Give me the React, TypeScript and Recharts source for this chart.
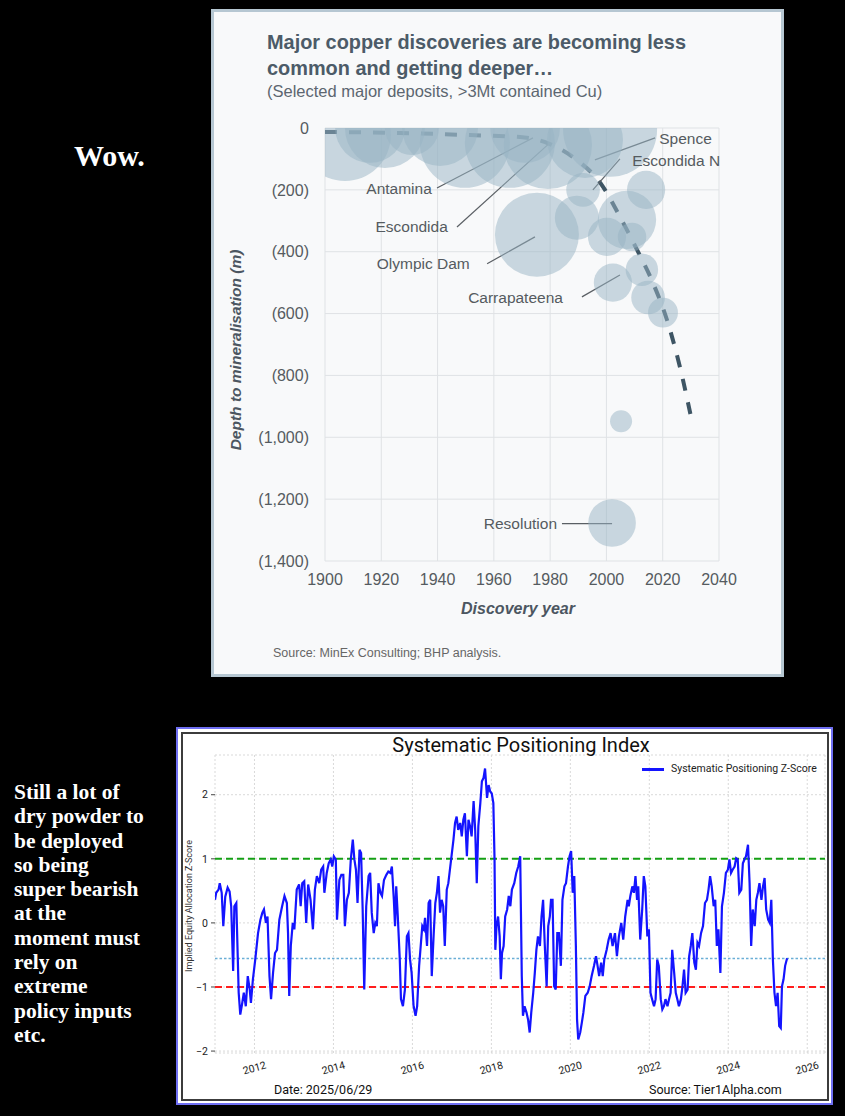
import React from "react";
import {
  ComposedChart, LineChart, Line, Scatter, XAxis, YAxis, ZAxis,
  CartesianGrid, ReferenceLine, ReferenceDot,
} from "recharts";

// ─────────────────────────────────────────────────────────────────────────────
// Data — copper discoveries (depth in metres, contained Cu in Mt)
// ─────────────────────────────────────────────────────────────────────────────

const DEPOSIT_YEAR  = [1907.1, 1916.0, 1921.3, 1930.9, 1940.9, 1949.7, 1965.7, 1971.1, 1979.2, 1992.4, 2001.3,
                       1991.7, 1989.5, 1975.3, 2007.3, 2000.2, 2009.1, 2014.1, 2002.3, 2012.6, 2014.8, 2020.1, 2005.2, 2002.0];
const DEPOSIT_DEPTH = [23, 0, 0, 0, 0, 48, 48, 0, 55, 39, 6,
                       200, 290, 345, 297, 352, 352, 200, 500, 458, 548, 597, 948, 1277];
const DEPOSIT_CU    = [104, 60, 79, 36, 71, 100, 100, 60, 96, 71, 109,
                       14, 24, 87, 42, 18, 10, 18, 18, 13, 14, 11, 6, 28];

const TREND_YEAR  = [1900, 1926.6, 1951.5, 1969.3, 1979.9, 1988.1, 1998.8, 2004.8, 2010.9, 2016.5, 2021.5, 2026.1, 2030.4];
const TREND_DEPTH = [13, 16, 23, 29, 52, 94, 190, 287, 394, 500, 620, 772, 949];

const YEAR_TICKS  = [1900, 1920, 1940, 1960, 1980, 2000, 2020, 2040];
const DEPTH_TICKS = [0, -200, -400, -600, -800, -1000, -1200, -1400];

// label anchor + leader line, in data units (year, depth)
const ANNOTATIONS = [
  { name: "Antamina",     side: "left",  at: [1939.4, 194],  from: [1939.8, 194],  to: [1973.9, 32] },
  { name: "Escondida",    side: "left",  at: [1945.1, 320],  from: [1946.9, 320],  to: [1979.9, 48] },
  { name: "Olympic Dam",  side: "left",  at: [1952.9, 439],  from: [1957.6, 439],  to: [1974.6, 352] },
  { name: "Carrapateena", side: "left",  at: [1986.0, 549],  from: [1991.3, 546],  to: [2004.8, 475] },
  { name: "Spence",       side: "right", at: [2017.3, 35],   from: [2017.3, 32],   to: [1995.9, 103] },
  { name: "Escondida N",  side: "right", at: [2007.7, 106],  from: [2004.8, 100],  to: [1995.2, 200] },
  { name: "Resolution",   side: "left",  at: [1983.9, 1279], from: [1984.2, 1279], to: [2002.0, 1279] },
];

// ─────────────────────────────────────────────────────────────────────────────
// Data — Systematic Positioning Z-Score (decimal year, z)
// ─────────────────────────────────────────────────────────────────────────────

const SPI: [number, number][] = [
  [2011.00,0.36],[2011.03,0.47],[2011.09,0.52],[2011.12,0.62],[2011.17,0.47],[2011.21,-0.05],[2011.26,0.41],[2011.32,0.55],
  [2011.37,0.49],[2011.41,0.26],[2011.46,-0.75],[2011.49,0.26],[2011.54,0.31],[2011.60,-1.09],[2011.64,-1.43],[2011.69,-1.25],
  [2011.73,-1.09],[2011.78,-1.30],[2011.83,-0.83],[2011.88,-1.04],[2011.91,-1.25],[2011.96,-0.88],
  [2012.02,-0.57],[2012.09,-0.16],[2012.15,0.05],[2012.20,0.16],[2012.24,0.21],[2012.29,0],[2012.33,0.10],[2012.38,-0.83],
  [2012.42,-1.19],[2012.47,-0.78],[2012.52,-0.47],[2012.57,-0.42],[2012.63,0.05],[2012.70,0.26],[2012.76,0.42],[2012.82,0.31],
  [2012.85,-0.16],[2012.88,-1.14],[2012.92,-0.36],[2012.97,0],
  [2013.01,-0.10],[2013.07,0.52],[2013.13,0.60],[2013.17,0.26],[2013.21,0.62],[2013.26,0.65],[2013.31,0],[2013.36,0.60],
  [2013.42,0.36],[2013.48,-0.10],[2013.53,0.52],[2013.58,0.73],[2013.64,0.62],[2013.69,0.83],[2013.74,0.88],[2013.77,0.47],
  [2013.83,0.78],[2013.88,0.93],[2013.93,0.99],[2013.97,0.88],
  [2014.01,1.04],[2014.06,0.99],[2014.09,0.05],[2014.15,0.67],[2014.20,0.75],[2014.25,0.75],[2014.29,-0.05],[2014.34,0.36],
  [2014.39,0.47],[2014.44,0.99],[2014.49,1.30],[2014.53,0.99],[2014.57,0.83],[2014.61,0.31],[2014.66,1.14],[2014.70,1.09],
  [2014.74,0.21],[2014.78,-1.04],[2014.83,0.26],[2014.89,0.73],[2014.93,0.78],[2014.97,0.16],
  [2015.02,-0.16],[2015.06,0],[2015.10,-0.05],[2015.14,0.62],[2015.19,0.47],[2015.23,0.42],[2015.28,0.67],[2015.34,0.75],
  [2015.39,0.80],[2015.44,0.78],[2015.48,0.88],[2015.53,0.36],[2015.56,-0.05],[2015.59,0.57],[2015.63,0.10],[2015.68,-0.57],
  [2015.71,-1.19],[2015.76,-1.30],[2015.81,-1.04],[2015.86,-0.21],[2015.90,-0.16],[2015.94,-0.57],[2015.98,-0.78],
  [2016.03,-1.30],[2016.08,-1.45],[2016.12,-1.30],[2016.17,-0.67],[2016.21,-0.36],[2016.25,-0.05],[2016.29,-0.10],[2016.32,0.08],
  [2016.37,-0.36],[2016.41,0.31],[2016.45,0.36],[2016.49,-0.83],[2016.54,-0.16],[2016.58,0.31],[2016.62,0.47],[2016.66,0.73],
  [2016.70,0.16],[2016.74,0.36],[2016.78,0.26],[2016.82,-0.36],[2016.87,0.52],[2016.91,0.62],[2016.95,0.83],[2016.99,1.04],
  [2017.04,1.30],[2017.08,1.56],[2017.12,1.66],[2017.16,1.45],[2017.21,1.56],[2017.25,1.35],[2017.29,1.61],[2017.33,1.71],
  [2017.38,1.04],[2017.42,1.61],[2017.46,1.51],[2017.50,1.35],[2017.55,1.90],[2017.59,1.45],[2017.63,0.62],[2017.67,1.51],
  [2017.72,1.87],[2017.76,2.21],[2017.80,2.26],[2017.84,2.41],[2017.89,1.95],[2017.93,2.15],[2017.97,2.05],
  [2018.01,2.02],[2018.05,1.87],[2018.08,0.99],[2018.10,-0.42],[2018.13,-0.05],[2018.17,0.10],[2018.21,-0.21],[2018.24,-0.88],
  [2018.27,-0.47],[2018.31,-0.36],[2018.35,0.10],[2018.40,0.21],[2018.44,0.42],[2018.48,0.26],[2018.52,0.52],[2018.58,0.62],
  [2018.63,0.78],[2018.68,0.88],[2018.73,1.04],[2018.77,-0.83],[2018.80,-1.45],[2018.84,-1.30],[2018.89,-1.40],[2018.93,-1.51],
  [2018.97,-1.71],
  [2019.01,-1.40],[2019.06,-1.09],[2019.10,-0.78],[2019.14,-0.42],[2019.18,-0.21],[2019.23,-0.36],[2019.27,0.10],[2019.31,0.36],
  [2019.35,-0.31],[2019.40,-0.99],[2019.44,-0.05],[2019.48,0.10],[2019.51,0.36],[2019.55,0.36],[2019.59,-0.99],[2019.63,-1.04],
  [2019.67,-0.16],[2019.71,-0.16],[2019.76,-0.67],[2019.80,0.36],[2019.85,0.57],[2019.89,0.62],[2019.94,0.88],[2019.98,1.04],
  [2020.02,1.12],[2020.06,0.47],[2020.10,0.73],[2020.14,-0.36],[2020.17,-1.51],[2020.20,-1.82],[2020.25,-1.71],[2020.29,-1.56],
  [2020.33,-1.40],[2020.38,-1.14],[2020.44,-1.09],[2020.49,-0.99],[2020.54,-0.83],[2020.60,-0.67],[2020.65,-0.52],[2020.69,-0.67],
  [2020.73,-0.83],[2020.78,-0.62],[2020.82,-0.83],[2020.86,-0.57],[2020.92,-0.42],[2020.97,-0.26],
  [2021.02,-0.16],[2021.07,-0.36],[2021.13,-0.16],[2021.18,-0.52],[2021.23,-0.21],[2021.29,0],[2021.34,-0.26],[2021.39,0.10],
  [2021.45,0.36],[2021.48,0.26],[2021.52,0.42],[2021.57,0.57],[2021.61,0.47],[2021.65,0.73],[2021.69,0.36],[2021.72,0.57],
  [2021.77,-0.26],[2021.82,0.21],[2021.86,0.73],[2021.90,0.57],[2021.95,-0.21],[2021.99,-0.10],
  [2022.03,-1.09],[2022.07,-1.19],[2022.12,-1.30],[2022.16,-1.19],[2022.20,-0.57],[2022.24,-0.67],[2022.29,-1.19],[2022.33,-1.35],
  [2022.37,-1.30],[2022.41,-1.19],[2022.46,-1.30],[2022.50,-1.19],[2022.54,-1.09],[2022.58,-0.42],[2022.63,-0.78],[2022.67,-1.09],
  [2022.71,-1.19],[2022.75,-1.30],[2022.80,-1.19],[2022.84,-0.99],[2022.88,-0.73],[2022.92,-1.09],[2022.97,-1.04],
  [2023.01,-0.52],[2023.05,-0.36],[2023.09,-0.16],[2023.14,-0.62],[2023.18,-0.73],[2023.22,-0.31],[2023.26,-0.36],[2023.31,-0.16],
  [2023.36,-0.05],[2023.41,0.31],[2023.46,0.36],[2023.50,0.52],[2023.54,0.73],[2023.58,0.57],[2023.63,0.26],[2023.67,0.36],
  [2023.71,-0.36],[2023.75,-0.10],[2023.80,-0.78],[2023.84,0.26],[2023.89,0.47],[2023.94,0.78],[2023.99,0.83],
  [2024.03,0.99],[2024.07,0.78],[2024.11,0.83],[2024.16,0.88],[2024.20,1.01],[2024.24,0.99],[2024.28,0.47],[2024.33,0.52],
  [2024.37,0.93],[2024.41,0.99],[2024.45,1.04],[2024.50,1.22],[2024.54,0.62],[2024.58,-0.36],[2024.62,0.21],[2024.67,-0.05],
  [2024.71,0.36],[2024.75,0.47],[2024.79,0.62],[2024.84,0.36],[2024.88,0.57],[2024.92,0.70],[2024.96,0.21],
  [2025.01,0.05],[2025.05,0],[2025.09,0.36],[2025.13,-0.57],[2025.17,-1.09],[2025.21,-1.30],[2025.25,-1.09],[2025.29,-1.61],
  [2025.33,-1.64],[2025.36,-0.99],[2025.40,-0.88],[2025.44,-0.67],[2025.49,-0.55],
];

const SPI_X_TICKS  = [2012, 2014, 2016, 2018, 2020, 2022, 2024, 2026];
const SPI_Y_TICKS  = [-2, -1, 0, 1, 2];
const SPI_UPPER    = 1;
const SPI_LOWER    = -1;
const SPI_CURRENT  = -0.555;

const NOTE_LINES = [
  "Still a lot of", "dry powder to", "be deployed", "so being", "super bearish", "at the",
  "moment must", "rely on", "extreme", "policy inputs", "etc.",
];

// ─────────────────────────────────────────────────────────────────────────────
// Helpers
// ─────────────────────────────────────────────────────────────────────────────

const SANS  = "'Liberation Sans', Arial, sans-serif";
const ROBO  = "Roboto, 'DejaVu Sans', sans-serif";
const SERIF = "'Liberation Serif', 'DejaVu Serif', serif";

const deposits = DEPOSIT_YEAR.map((year, i) => ({ year, d: -DEPOSIT_DEPTH[i], cu: DEPOSIT_CU[i] }));
const trend    = TREND_YEAR.map((year, i) => ({ year, d: -TREND_DEPTH[i] }));
const spiData  = SPI.map(([t, v]) => ({ t, v }));

function fmtDepth(v: number): string {
  if (v === 0) return "0";
  return `(${Math.abs(v).toLocaleString("en-US")})`;
}

function fmtZ(v: number): string {
  return v < 0 ? `\u2212${Math.abs(v)}` : `${v}`;
}

const Bubble = (p: any) => (
  <circle cx={p.cx} cy={p.cy} r={p.width / 2} fill="#98b3c3" fillOpacity={0.5} />
);

const RotTick = ({ x, y, payload }: any) => (
  <text
    transform={`translate(${x},${y + 7}) rotate(-15)`}
    textAnchor="middle" dominantBaseline="central"
    fontSize={10.5} fill="#222" fontFamily={ROBO}
  >
    {payload.value}
  </text>
);

const abs = (o: React.CSSProperties): React.CSSProperties => ({ position: "absolute", ...o });

// ─────────────────────────────────────────────────────────────────────────────
// Copper chart
// ─────────────────────────────────────────────────────────────────────────────

function CopperChart() {
  return (
    <ComposedChart width={519} height={481} margin={{ top: 18, right: 20, bottom: 0, left: 0 }}>
      <CartesianGrid stroke="#dfe2e5" strokeWidth={1} />
      <XAxis
        dataKey="year" type="number" domain={[1900, 2040]} ticks={YEAR_TICKS}
        allowDataOverflow axisLine={false} tickLine={false} tickSize={8} tickMargin={5} height={30}
        tick={{ fill: "#555b60", fontSize: 16, fontFamily: SANS }}
      />
      <YAxis
        dataKey="d" type="number" domain={[-1400, 0]} ticks={DEPTH_TICKS}
        allowDataOverflow axisLine={false} tickLine={false} tickSize={8} tickMargin={8} width={105}
        tickFormatter={fmtDepth}
        tick={{ fill: "#555b60", fontSize: 16, fontFamily: SANS }}
      />
      <ZAxis dataKey="cu" type="number" domain={[0, 150]} range={[0, 9543]} />

      <Scatter data={deposits} dataKey="d" shape={Bubble} isAnimationActive={false} />

      <Line
        data={trend} dataKey="d" type="monotone"
        stroke="#3e5564" strokeWidth={4} strokeDasharray="12 12"
        dot={false} activeDot={false} isAnimationActive={false}
      />

      {ANNOTATIONS.map((a) => (
        <ReferenceLine
          key={`l-${a.name}`}
          segment={[{ x: a.from[0], y: -a.from[1] }, { x: a.to[0], y: -a.to[1] }]}
          stroke="#5a5f64" strokeWidth={1.2} ifOverflow="visible"
        />
      ))}
      {ANNOTATIONS.map((a) => (
        <ReferenceDot
          key={`d-${a.name}`}
          x={a.at[0]} y={-a.at[1]} r={0.1} fill="none" stroke="none"
          label={{ value: a.name, position: a.side as any, offset: 4, fill: "#555b60", fontSize: 15.5, fontFamily: SANS }}
        />
      ))}
    </ComposedChart>
  );
}

// ─────────────────────────────────────────────────────────────────────────────
// Positioning index chart
// ─────────────────────────────────────────────────────────────────────────────

function PositioningChart() {
  return (
    <LineChart width={657} height={378} data={spiData} margin={{ top: 28, right: 8, bottom: 0, left: 0 }}>
      <CartesianGrid stroke="#d9d9d9" strokeDasharray="2 2" />
      <XAxis
        dataKey="t" type="number" domain={[2011.0, 2026.45]} ticks={SPI_X_TICKS}
        allowDataOverflow axisLine={false} tickLine={false} tickSize={6} tickMargin={2} height={52}
        tick={<RotTick />}
      />
      <YAxis
        type="number" domain={[-2.03, 2.62]} ticks={SPI_Y_TICKS}
        allowDataOverflow axisLine={false} tickSize={4} tickMargin={3} width={39}
        tickLine={{ stroke: "#444" }}
        tickFormatter={fmtZ}
        tick={{ fill: "#222", fontSize: 10.5, fontFamily: ROBO }}
      />
      <ReferenceLine y={SPI_UPPER}   stroke="#14a014" strokeWidth={2} strokeDasharray="7 4" />
      <ReferenceLine y={SPI_LOWER}   stroke="#ff1e1e" strokeWidth={2} strokeDasharray="7 4" />
      <ReferenceLine y={SPI_CURRENT} stroke="#6aaed6" strokeWidth={1.5} strokeDasharray="2.5 2" />
      <Line
        dataKey="v" type="linear" stroke="#1414ff" strokeWidth={2.2}
        dot={false} activeDot={false} isAnimationActive={false}
      />
    </LineChart>
  );
}

// ─────────────────────────────────────────────────────────────────────────────
// Page
// ─────────────────────────────────────────────────────────────────────────────

export default function App() {
  return (
    <div style={abs({ left: 0, top: 0, width: 845, height: 1116, background: "#000", overflow: "hidden" })}>
      {/* left notes */}
      <div style={abs({ left: 74, top: 141, color: "#fff", fontFamily: SERIF, fontWeight: 700, fontSize: 30, lineHeight: "30px" })}>
        Wow.
      </div>
      <div style={abs({ left: 14, top: 780, color: "#fff", fontFamily: SERIF, fontWeight: 700, fontSize: 21.5, lineHeight: "24.3px" })}>
        {NOTE_LINES.map((l) => <div key={l}>{l}</div>)}
      </div>

      {/* copper panel */}
      <div style={abs({ left: 211, top: 9, width: 573, height: 668, boxSizing: "border-box",
        border: "3px solid #b6c7d2", background: "#f8f9fa" })} />
      <div style={abs({ left: 267, top: 32, color: "#4c5b68", fontFamily: SANS, fontWeight: 700, fontSize: 19.9, lineHeight: "20px", whiteSpace: "nowrap" })}>
        Major copper discoveries are becoming less
      </div>
      <div style={abs({ left: 267, top: 58, color: "#4c5b68", fontFamily: SANS, fontWeight: 700, fontSize: 19.9, lineHeight: "20px", whiteSpace: "nowrap" })}>
        common and getting deeper…
      </div>
      <div style={abs({ left: 267, top: 83, color: "#5c6670", fontFamily: SANS, fontSize: 16.5, lineHeight: "16.5px", whiteSpace: "nowrap" })}>
        (Selected major deposits, &gt;3Mt contained Cu)
      </div>
      <div style={abs({ left: 220, top: 110 })}>
        <CopperChart />
      </div>
      <div style={abs({ left: 86, top: 342, width: 300, textAlign: "center", transform: "rotate(-90deg)",
        color: "#4c5661", fontFamily: SANS, fontWeight: 700, fontStyle: "italic", fontSize: 15.5, lineHeight: "16px", whiteSpace: "nowrap" })}>
        Depth to mineralisation (m)
      </div>
      <div style={abs({ left: 368, top: 601, width: 300, textAlign: "center",
        color: "#4c5661", fontFamily: SANS, fontWeight: 700, fontStyle: "italic", fontSize: 16, lineHeight: "16px" })}>
        Discovery year
      </div>
      <div style={abs({ left: 273, top: 647, color: "#666", fontFamily: SANS, fontSize: 12.5, lineHeight: "12.5px", whiteSpace: "nowrap" })}>
        Source: MinEx Consulting; BHP analysis.
      </div>

      {/* positioning panel */}
      <div style={abs({ left: 176, top: 727, width: 657, height: 378, boxSizing: "border-box",
        border: "2px solid #6f6ff2", background: "#fff" })} />
      <div style={abs({ left: 181, top: 732, width: 648, height: 369, boxSizing: "border-box",
        border: "2px solid #3c3c3c" })} />
      <div style={abs({ left: 176, top: 727 })}>
        <PositioningChart />
      </div>
      <div style={abs({ left: 321, top: 733, width: 400, textAlign: "center", color: "#111",
        fontFamily: ROBO, fontSize: 20, lineHeight: "24px", whiteSpace: "nowrap" })}>
        Systematic Positioning Index
      </div>
      <div style={abs({ left: 642, top: 768, width: 22, height: 2.5, background: "#1414ff" })} />
      <div style={abs({ left: 671, top: 762, color: "#222", fontFamily: ROBO, fontSize: 10.5, lineHeight: "14px", whiteSpace: "nowrap" })}>
        Systematic Positioning Z-Score
      </div>
      <div style={abs({ left: 38.5, top: 901, width: 300, textAlign: "center", transform: "rotate(-90deg)",
        color: "#333", fontFamily: ROBO, fontSize: 9, lineHeight: "10px", whiteSpace: "nowrap" })}>
        Implied Equity Allocation Z-Score
      </div>
      <div style={abs({ left: 274, top: 1083, color: "#111", fontFamily: ROBO, fontSize: 12.5, lineHeight: "14px", whiteSpace: "nowrap" })}>
        Date: 2025/06/29
      </div>
      <div style={abs({ left: 649, top: 1083, color: "#111", fontFamily: ROBO, fontSize: 12.5, lineHeight: "14px", whiteSpace: "nowrap" })}>
        Source: Tier1Alpha.com
      </div>
    </div>
  );
}
